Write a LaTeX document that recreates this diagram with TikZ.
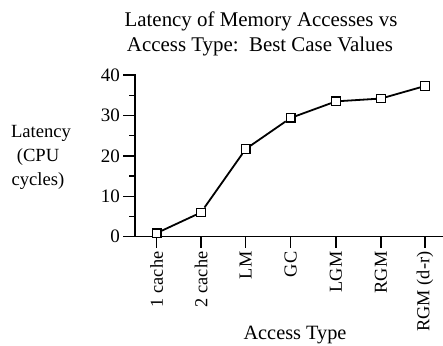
\documentclass[tikz,border=0pt]{standalone}
\usepackage{fontspec}
\setmainfont{Liberation Serif}
\begin{document}
\begin{tikzpicture}[x=1pt,y=-1pt,
  axisline/.style={line width=1.5pt},
  series/.style={line width=1.8pt},
  datamark/.style={draw, line width=1.4pt, fill=white, rectangle,
    minimum size=8.5pt, inner sep=0pt,
    path picture={\fill (path picture bounding box.center) circle (1pt);}},
  ticklabel/.style={font=\fontsize{19}{22}\selectfont, anchor=east, inner sep=1pt},
  catlabel/.style={font=\fontsize{18.3}{22}\selectfont, rotate=90, anchor=east, inner sep=0pt},
  axistitle/.style={font=\fontsize{18.6}{22}\selectfont, anchor=base, inner sep=0pt},
  titletext/.style={font=\fontsize{20.9}{25}\selectfont, anchor=base, inner sep=0pt}
]
\useasboundingbox (0,0) rectangle (443,345);

% title
\node[titletext] (title1) at (261,27) {Latency of Memory Accesses vs};
\node[titletext] (title2) at (260,52) {Access Type:\ \ Best Case Values};

% axes
\coordinate (origin) at (135,236.7);
\coordinate (ytop) at (135,74);
\coordinate (xend) at (443,236.7);
\draw[axisline] (ytop) -- (origin) -- (xend);

% y ticks and labels
\foreach \v in {0,10,20,30,40} {
  \pgfmathsetmacro\yy{236.7-4.04*\v}
  \draw[axisline] (123,\yy) -- (135,\yy);
  \node[ticklabel] (ylab\v) at (121,\yy) {\v};
}
\foreach \v in {5,15,25,35} {
  \pgfmathsetmacro\yy{236.7-4.04*\v}
  \draw[axisline] (129,\yy) -- (135,\yy);
}

% y axis title
\node[axistitle] (ytitle1) at (41,137) {Latency};
\node[axistitle] (ytitle2) at (38,161) {(CPU};
\node[axistitle] (ytitle3) at (38,185) {cycles)};

% categories, ticks and data markers
\foreach \i/\xx/\val/\lab in {
  1/156.7/0.9/1 cache,
  2/201/6/2 cache,
  3/245.7/21.7/LM,
  4/290.7/29.4/GC,
  5/336/33.5/LGM,
  6/381/34.2/RGM,
  7/425/37.3/RGM (d-r)} {
  \draw[axisline] (\xx,236.7) -- (\xx,248);
  \node[catlabel] (cat\i) at (\xx,251.5) {\lab};
  \pgfmathsetmacro\yy{236.7-4.04*\val}
  \node[datamark] (m\i) at (\xx,\yy) {};
}

% data series, marker to marker
\draw[series] (m1) -- (m2) -- (m3) -- (m4) -- (m5) -- (m6) -- (m7);

% x axis title
\node[axistitle, font=\fontsize{20.3}{24}\selectfont] (xtitle) at (295,339) {Access Type};
\end{tikzpicture}
\end{document}
